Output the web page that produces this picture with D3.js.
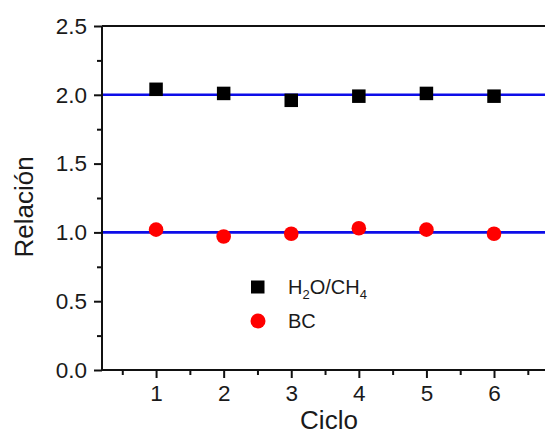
<!DOCTYPE html>
<html>
<head>
<meta charset="utf-8">
<script src="https://cdn.jsdelivr.net/npm/d3@7"></script>
<style>
  html, body { margin: 0; padding: 0; background: #fff; }
  svg { display: block; }
  text { font-family: "Liberation Sans", Arial, sans-serif; fill: #1a1a1a; }
</style>
</head>
<body>
<svg id="chart" width="545" height="435"></svg>
<script>
// Cycle numbers and measured ratios
const ciclos = [1, 2, 3, 4, 5, 6];
const h2oCh4 = [2.04, 2.01, 1.96, 1.99, 2.01, 1.99];
const bc = [1.02, 0.97, 0.99, 1.03, 1.02, 0.99];
// Reference (stoichiometric) ratios
const refLines = [2.0, 1.0];
const yTicks = [0.0, 0.5, 1.0, 1.5, 2.0, 2.5];
const yMinor = [0.25, 0.75, 1.25, 1.75, 2.25];
const xTicks = [1, 2, 3, 4, 5, 6];
const xMinor = [0.5, 1.5, 2.5, 3.5, 4.5, 5.5, 6.5];

const svg = d3.select("#chart");
const x = d3.scaleLinear().domain([0.2, 7.0]).range([102, 561.6]);
const y = d3.scaleLinear().domain([0, 2.5]).range([370, 26]);

const g = svg.append("g");

// Top frame line
g.append("line").attr("x1", x(0.2)).attr("x2", 545).attr("y1", y(2.5)).attr("y2", y(2.5))
  .attr("stroke", "#111").attr("stroke-width", 2);

// Y axis
const yAxis = d3.axisLeft(y).tickValues(yTicks).tickFormat(d3.format(".1f")).tickSize(8).tickPadding(7);
const ya = g.append("g").attr("transform", `translate(${x(0.2)},0)`).call(yAxis);
ya.selectAll(".tick text").style("font-size", "22.5px").attr("fill", "#1a1a1a");
ya.selectAll("line").attr("stroke", "#111").attr("stroke-width", 2);
ya.select(".domain").attr("stroke", "#111").attr("stroke-width", 2).attr("d", `M0,${y(0)}V${y(2.5)}`);
const yAxisMinor = d3.axisLeft(y).tickValues(yMinor).tickFormat("").tickSize(5);
const yam = g.append("g").attr("transform", `translate(${x(0.2)},0)`).call(yAxisMinor);
yam.select(".domain").remove();
yam.selectAll("line").attr("stroke", "#111").attr("stroke-width", 2);

// X axis
const xAxis = d3.axisBottom(x).tickValues(xTicks).tickFormat(d3.format("d")).tickSize(8).tickPadding(7);
const xa = g.append("g").attr("transform", `translate(0,${y(0)})`).call(xAxis);
xa.selectAll(".tick text").style("font-size", "22.5px").attr("fill", "#1a1a1a");
xa.selectAll("line").attr("stroke", "#111").attr("stroke-width", 2);
xa.select(".domain").attr("stroke", "#111").attr("stroke-width", 2).attr("d", `M${x(0.2)},0H545`);
const xAxisMinor = d3.axisBottom(x).tickValues(xMinor).tickFormat("").tickSize(5);
const xam = g.append("g").attr("transform", `translate(0,${y(0)})`).call(xAxisMinor);
xam.select(".domain").remove();
xam.selectAll("line").attr("stroke", "#111").attr("stroke-width", 2);

// Reference lines
g.selectAll(".ref").data(refLines).join("line")
  .attr("class", "ref")
  .attr("x1", x(0.2) + 1).attr("x2", 545)
  .attr("y1", d => y(d)).attr("y2", d => y(d))
  .attr("stroke", "#0d0de8").attr("stroke-width", 2.6);

// H2O/CH4 squares
const sq = 13.5;
g.selectAll(".sq").data(ciclos).join("rect")
  .attr("class", "sq")
  .attr("x", (d) => x(d) - sq / 2)
  .attr("y", (d, i) => y(h2oCh4[i]) - sq / 2)
  .attr("width", sq).attr("height", sq)
  .attr("fill", "#000");

// BC circles
g.selectAll(".ci").data(ciclos).join("circle")
  .attr("class", "ci")
  .attr("cx", d => x(d))
  .attr("cy", (d, i) => y(bc[i]))
  .attr("r", 7.3)
  .attr("fill", "#ff0000");

// Legend
const lg = g.append("g");
lg.append("rect").attr("x", 251).attr("y", 280.5).attr("width", 13.5).attr("height", 13).attr("fill", "#000");
const t1 = lg.append("text").attr("x", 288).attr("y", 294).style("font-size", "20px");
t1.append("tspan").text("H");
t1.append("tspan").text("2").style("font-size", "13px").attr("dy", 5);
t1.append("tspan").text("O/CH").attr("dy", -5);
t1.append("tspan").text("4").style("font-size", "13px").attr("dy", 5);
lg.append("circle").attr("cx", 258).attr("cy", 321).attr("r", 7.5).attr("fill", "#ff0000");
lg.append("text").attr("x", 288).attr("y", 327.5).style("font-size", "20px").text("BC");

// Axis titles
g.append("text").attr("x", 329).attr("y", 429).attr("text-anchor", "middle")
  .style("font-size", "26px").text("Ciclo");
g.append("text").attr("transform", `translate(33,207) rotate(-90)`)
  .attr("text-anchor", "middle").style("font-size", "26px").text("Relación");
</script>
</body>
</html>
